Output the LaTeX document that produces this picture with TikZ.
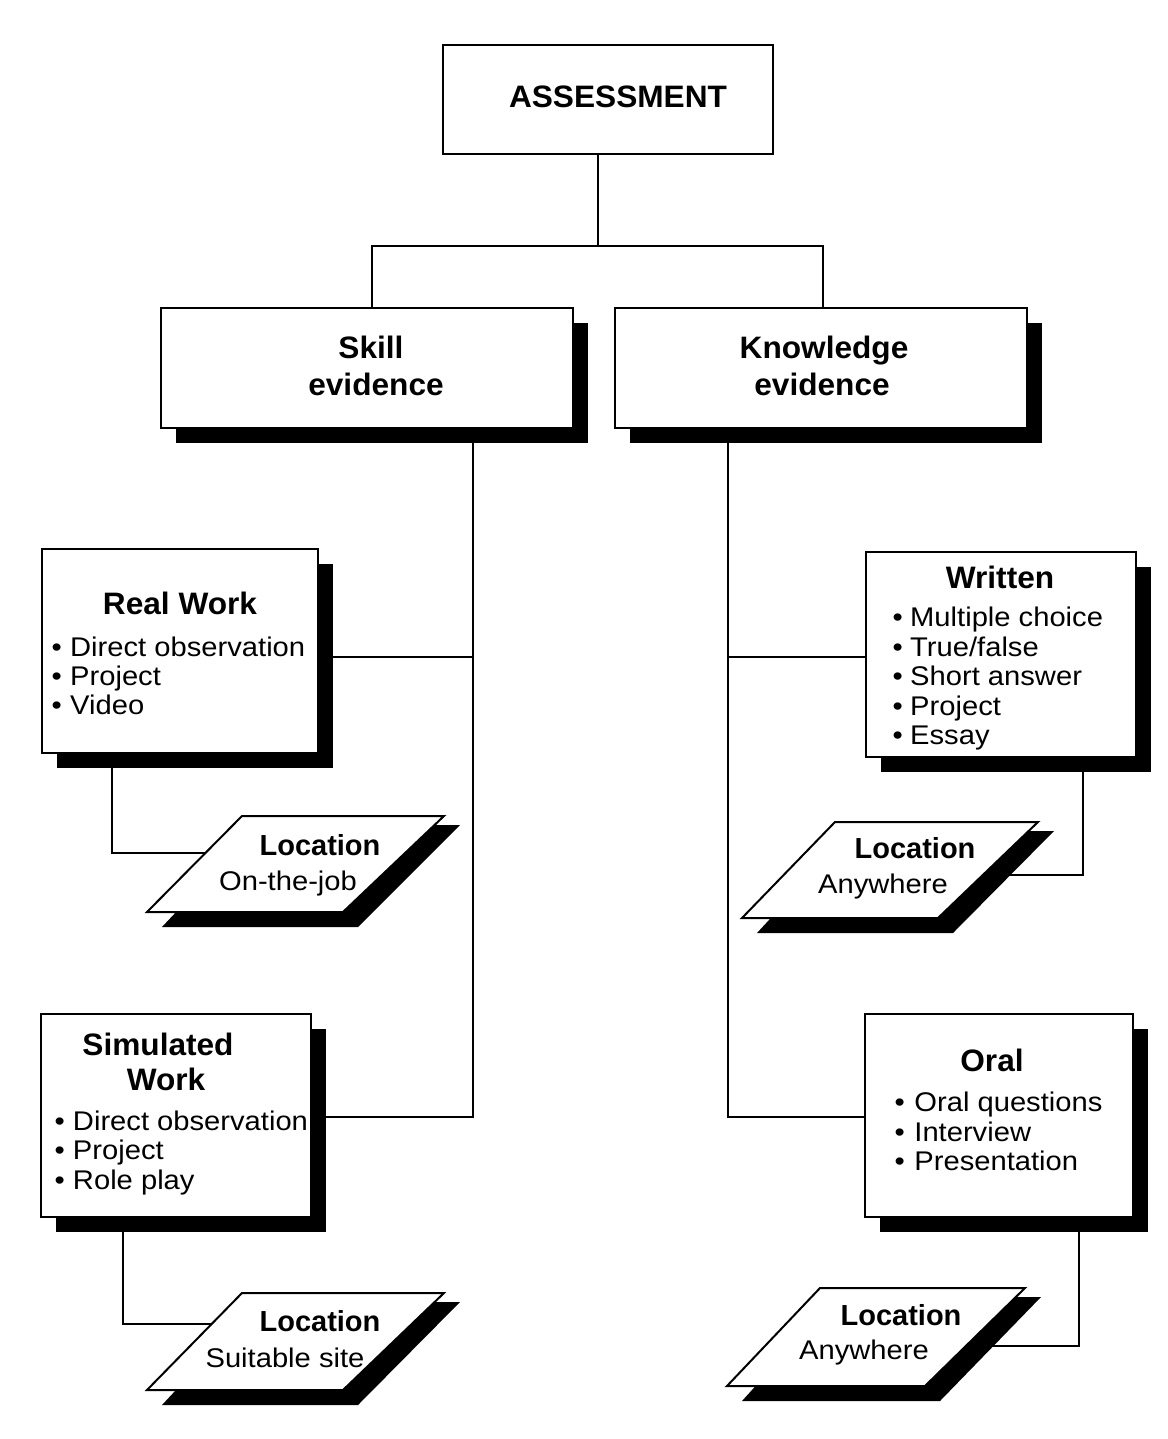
\documentclass[tikz,border=0pt]{standalone}
\usepackage{fontspec}
\setmainfont{Liberation Sans}
\newfontfamily\bodyfam{Liberation Sans}[FakeStretch=1.08]
\newfontfamily\headfam{Liberation Sans}[FakeStretch=1.02]
\usetikzlibrary{calc,shadows,backgrounds}
\newcommand\myhead{\headfam\fontsize{31}{33}\selectfont\bfseries}
\newcommand\myloc{\fontsize{29}{31}\selectfont\bfseries}
\newcommand\mybody{\bodyfam\fontsize{27}{29}\selectfont}
\newcommand\bitem[2]{\makebox[#1][l]{•}#2}
% parallelogram: name, top-left x, top-right x, top y, bottom-left x, bottom-right x, bottom y
\newcommand\locbox[7]{%
  \fill[black] (#2+16,#4+9) -- (#3+16,#4+9) -- (#6+15,#7+15) -- (#5+15,#7+15) -- cycle;
  \draw[shapeline, fill=white] (#2,#4) -- (#3,#4) -- (#6,#7) -- (#5,#7) -- cycle;
  \coordinate (#1) at ({(#2+#3+#5+#6)/4},{(#4+#7)/2});}
\begin{document}
\begin{tikzpicture}[x=1pt,y=-1pt,
  wire/.style={line width=2pt},
  shapeline/.style={line width=2pt, line join=miter},
  plainbox/.style={draw, shapeline, fill=white, inner sep=0pt},
  box/.style={plainbox, drop shadow={shadow xshift=15pt, shadow yshift=-15pt, opacity=1, fill=black}},
  head/.style={font=\myhead, inner sep=0pt, anchor=base},
  loc/.style={font=\myloc, inner sep=0pt, anchor=base},
  txt/.style={font=\mybody, inner sep=0pt, anchor=base},
  item/.style={font=\mybody, inner sep=0pt, anchor=base west}]
\useasboundingbox (0,0) rectangle (1167,1439);

% boxes
\node[plainbox, minimum width=330pt, minimum height=109pt] (A) at (608,99.5) {};
\node[box, minimum width=412pt, minimum height=120pt] (S) at (367,368) {};
\node[box, minimum width=412pt, minimum height=120pt] (K) at (821,368) {};
\node[box, minimum width=276pt, minimum height=204pt] (RW) at (180,651) {};
\node[box, minimum width=270pt, minimum height=205pt] (W) at (1001,654.5) {};
\node[box, minimum width=270pt, minimum height=203pt] (SW) at (176,1115.5) {};
\node[box, minimum width=268pt, minimum height=203pt] (O) at (999,1115.5) {};

% location parallelograms
\locbox{L1}{242}{444}{816}{147}{343}{912}
\locbox{L2}{835}{1038}{822}{742}{938}{918}
\locbox{L3}{242}{444}{1293}{147}{343}{1390}
\locbox{L4}{820}{1025}{1288}{727}{925}{1386}

% connectors
\begin{scope}[on background layer]
\fill[white] (0,0) rectangle (1167,1439);
\draw[wire] ($(A.south)+(-10,0)$) -- ++(0,91) coordinate (bus);
\draw[wire] ($(S.north)+(5,0)$) |- (bus) -| ($(K.north)+(2,0)$);
\draw[wire] ($(S.south)+(106,0)$) |- ($(SW.east)+(0,1.5)$);
\draw[wire] ($(RW.east)+(0,6)$) -- ++(155,0);
\draw[wire] ($(K.south)+(-93,0)$) |- ($(O.west)+(0,1.5)$);
\draw[wire] ($(W.west)+(0,2.5)$) -- ++(-138,0);
\draw[wire] ($(RW.south)+(-68,0)$) |- ($(L1)+(0,-11)$);
\draw[wire] ($(W.south)+(82,0)$) |- ($(L2)+(0,5)$);
\draw[wire] ($(SW.south)+(-53,0)$) |- ($(L3)+(0,-17.5)$);
\draw[wire] ($(O.south)+(80,0)$) |- ($(L4)+(0,9)$);
\end{scope}

% texts
\node[head] (tA) at (618,108) {ASSESSMENT};
\node[head] (tS1) at (371,358) {Skill};
\node[head] (tS2) at (376,395) {evidence};
\node[head] (tK1) at (824,358) {Knowledge};
\node[head] (tK2) at (822,395) {evidence};

\node[head] (tRW) at (180,614) {Real Work};
\node[item] (rw1) at (51.5,656) {\bitem{18.5pt}{Direct observation}};
\node[item] (rw2) at (51.5,685) {\bitem{18.5pt}{Project}};
\node[item] (rw3) at (51.5,714) {\bitem{18.5pt}{Video}};

\node[head] (tW) at (1000,588) {Written};
\node[item] (w1) at (892.5,626.5) {\bitem{17.5pt}{Multiple choice}};
\node[item] (w2) at (892.5,656) {\bitem{17.5pt}{True/false}};
\node[item] (w3) at (892.5,685.5) {\bitem{17.5pt}{Short answer}};
\node[item] (w4) at (892.5,715) {\bitem{17.5pt}{Project}};
\node[item] (w5) at (892.5,744) {\bitem{17.5pt}{Essay}};

\node[head] (tSW1) at (158,1055) {Simulated};
\node[head] (tSW2) at (166,1090) {Work};
\node[item] (sw1) at (54.5,1130) {\bitem{18.3pt}{Direct observation}};
\node[item] (sw2) at (54.5,1159.5) {\bitem{18.3pt}{Project}};
\node[item] (sw3) at (54.5,1189) {\bitem{18.3pt}{Role play}};

\node[head] (tO) at (992,1071) {Oral};
\node[item] (o1) at (894.5,1111) {\bitem{19.7pt}{Oral questions}};
\node[item] (o2) at (894.5,1141) {\bitem{19.7pt}{Interview}};
\node[item] (o3) at (894.5,1170.5) {\bitem{19.7pt}{Presentation}};

\node[loc] (l1a) at (320,855) {Location};
\node[txt] (l1b) at (288,890) {On-the-job};
\node[loc] (l2a) at (915,858) {Location};
\node[txt] (l2b) at (883,893) {Anywhere};
\node[loc] (l3a) at (320,1331) {Location};
\node[txt] (l3b) at (285,1367) {Suitable site};
\node[loc] (l4a) at (901,1325) {Location};
\node[txt] (l4b) at (864,1359) {Anywhere};
\end{tikzpicture}
\end{document}
